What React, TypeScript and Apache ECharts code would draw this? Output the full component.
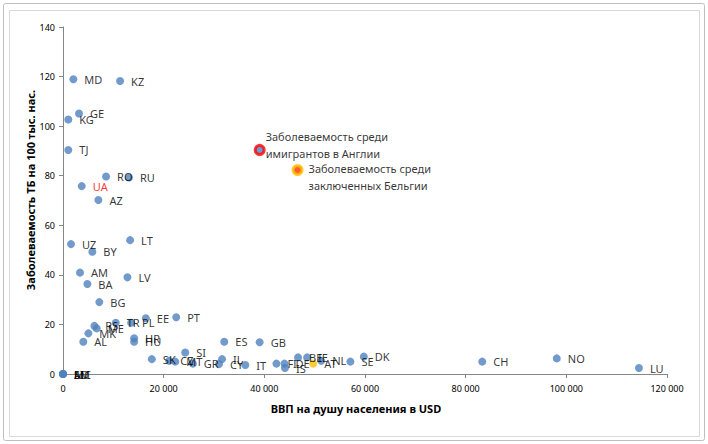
import React, { useEffect, useRef } from "react";
import * as echarts from "echarts";

const countries = ["MD","KZ","GE","KG","TJ","RO","RU","UA","AZ","UZ","LT","BY","AM","LV","BA","BG","PT","EE","PL","TR","RS","ME","MK","AL","HR","HU","SK","CZ","MT","SI","GR","IL","CY","ES","IT","GB","FI","DE","IS","BE","IE","AT","NL","SE","DK","CH","NO","LU","AD","MC","SM","LI"];
const gdp = [2060,11340,3180,1050,1050,8560,13100,3720,7030,1590,13330,5830,3380,12800,4840,7220,22490,16450,13530,10480,6230,6700,5040,4040,14130,14130,17650,21100,22300,24280,25800,31600,31000,32040,36220,39070,42400,44000,44100,46700,48500,49700,51300,57100,59760,83300,98100,114430,0,0,0,0];
const tb = [118.9,118.2,105.1,102.7,90.4,79.7,79.3,75.8,70.2,52.4,54.0,49.3,40.9,39.0,36.3,29.0,22.9,22.5,20.7,20.7,19.4,18.4,16.4,13.0,14.4,13.0,6.0,5.3,5.0,8.7,4.2,6.0,4.0,13.0,3.6,12.8,4.2,4.2,2.4,6.7,6.7,4.2,5.3,5.0,7.0,5.0,6.3,2.4,0,0,0,0];
const redLabel = ["UA"];
const yellowPoint = ["AT"];

const specialNames = ["Заболеваемость среди\nимигрантов в Англии", "Заболеваемость среди\nзаключенных Бельгии"];
const specialGdp = [39070, 46600];
const specialTb = [90.4, 82.3];

const xMin = 0, xMax = 120000, xStep = 20000;
const yMin = 0, yMax = 140, yStep = 20;
const xTitle = "ВВП на душу населения в USD";
const yTitle = "Заболеваемость ТБ на 100 тыс. нас.";

const FONT = "Noto Sans";
const BLUE = "#4F81BD";

function fmt(v: number) {
  return String(v).replace(/\B(?=(\d{3})+(?!\d))/g, " ");
}

export default function App() {
  const ref = useRef<HTMLDivElement>(null);
  useEffect(() => {
    if (!ref.current) return;
    const chart = echarts.init(ref.current, null, { renderer: "svg" });
    const data = countries.map((c, i) => {
      const item: any = { name: c, value: [gdp[i], tb[i]] };
      if (redLabel.includes(c)) item.label = { color: "#FF0000" };
      if (yellowPoint.includes(c)) item.itemStyle = { color: "#FFC000" };
      return item;
    });
    const special = [
      {
        name: specialNames[0],
        value: [specialGdp[0], specialTb[0]],
        symbolSize: 9,
        itemStyle: { color: BLUE, borderColor: "#FF0000", borderWidth: 3 },
        label: { position: [12, -16] },
      },
      {
        name: specialNames[1],
        value: [specialGdp[1], specialTb[1]],
        symbolSize: 9,
        itemStyle: { color: "#FF3300", borderColor: "#FFC000", borderWidth: 3 },
        label: { position: [17, -4] },
      },
    ];
    chart.setOption({
      animation: false,
      textStyle: { fontFamily: FONT },
      grid: { left: 63, right: 41, top: 27, bottom: 70, containLabel: false },
      graphic: [
        { type: "rect", shape: { x: 3.5, y: 3.5, width: 701, height: 437, r: 2 }, style: { fill: "none", stroke: "#BFBFBF", lineWidth: 1 }, silent: true },
        { type: "rect", shape: { x: 9.5, y: 10.5, width: 690, height: 426 }, style: { fill: "none", stroke: "#D9D9D9", lineWidth: 1 }, silent: true },
        { type: "text", x: 356, y: 408, style: { text: xTitle, font: `bold 11px "${FONT}"`, fill: "#000", align: "center", verticalAlign: "middle" } },
        { type: "text", x: 30, y: 190, rotation: Math.PI / 2, style: { text: yTitle, font: `bold 11px "${FONT}"`, fill: "#000", align: "center", verticalAlign: "middle" } },
      ],
      xAxis: {
        type: "value", min: xMin, max: xMax, interval: xStep,
        splitLine: { show: false },
        axisLine: { show: true, lineStyle: { color: "#868686" } },
        axisTick: { show: true, length: 4, lineStyle: { color: "#868686" } },
        axisLabel: { formatter: (v: number) => fmt(v), fontSize: 9, color: "#000", margin: 10, fontFamily: FONT },
      },
      yAxis: {
        type: "value", min: yMin, max: yMax, interval: yStep,
        splitLine: { show: false },
        axisLine: { show: true, lineStyle: { color: "#868686" } },
        axisTick: { show: true, length: 4, lineStyle: { color: "#868686" } },
        axisLabel: { fontSize: 9, color: "#000", margin: 8, fontFamily: FONT },
      },
      series: [
        {
          type: "scatter",
          symbolSize: 8,
          itemStyle: { color: BLUE },
          label: { show: true, position: "right", distance: 7, formatter: "{b}", fontSize: 11, color: "#000", fontFamily: FONT },
          data,
        },
        {
          type: "scatter",
          label: { show: true, formatter: "{b}", fontSize: 11, color: "#000", fontFamily: FONT, lineHeight: 17, align: "left", verticalAlign: "top" },
          data: special,
        },
      ],
    });
    return () => chart.dispose();
  }, []);
  return <div ref={ref} style={{ position: "absolute", left: 0, top: 0, width: 708, height: 444, background: "#fff" }} />;
}
